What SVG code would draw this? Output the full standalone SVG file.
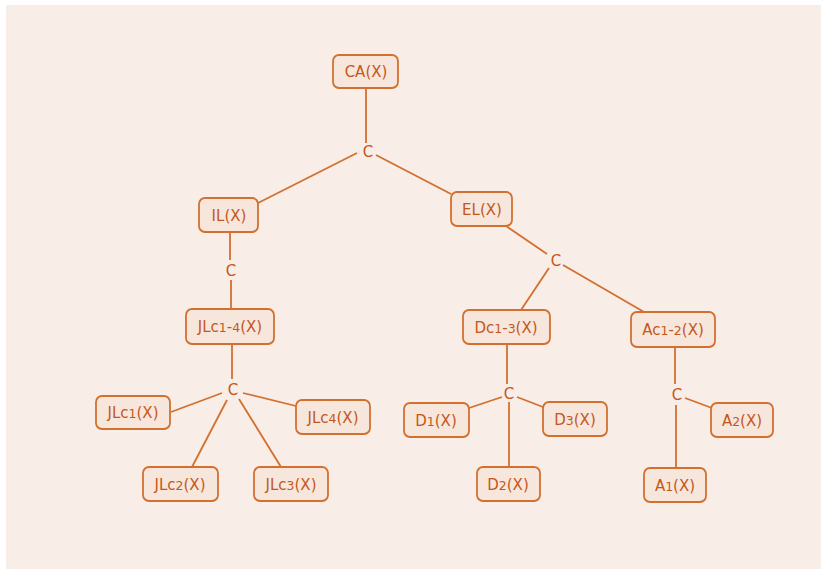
<svg xmlns="http://www.w3.org/2000/svg" width="821" height="569" viewBox="0 0 821 569">
<style>
.n rect{fill:#F7E6DB;stroke:#D2702F;stroke-width:1.8}
.n text,.c{font-family:"DejaVu Sans","Verdana",sans-serif;font-size:15px;fill:#C4581C;text-anchor:middle}
.d{font-size:12.5px}
#connectors line{stroke:#D2702F;stroke-width:1.8;fill:none}
</style>
<rect x="0" y="0" width="821" height="569" fill="#ffffff"/>
<rect x="6" y="5" width="815" height="564" fill="#F8EDE7"/>
<g id="connectors">
<line x1="366" y1="88" x2="366" y2="143"/>
<line x1="357" y1="153" x2="258" y2="203"/>
<line x1="376" y1="155" x2="451" y2="194"/>
<line x1="506" y1="226" x2="547" y2="254"/>
<line x1="549" y1="268" x2="521" y2="310"/>
<line x1="563" y1="265" x2="644" y2="312"/>
<line x1="507" y1="344" x2="507" y2="384"/>
<line x1="502" y1="397" x2="469" y2="408"/>
<line x1="517" y1="397" x2="543" y2="407"/>
<line x1="509" y1="402" x2="509" y2="467"/>
<line x1="675" y1="347" x2="675" y2="384"/>
<line x1="685" y1="398" x2="712" y2="408"/>
<line x1="676" y1="405" x2="676" y2="468"/>
<line x1="230" y1="232" x2="230" y2="260"/>
<line x1="231" y1="280" x2="231" y2="309"/>
<line x1="232" y1="344" x2="232" y2="379"/>
<line x1="222" y1="393" x2="171" y2="412"/>
<line x1="243" y1="393" x2="296" y2="406"/>
<line x1="227" y1="400" x2="192" y2="467"/>
<line x1="239" y1="399" x2="281" y2="467"/>
<text class="c" x="368" y="157">C</text>
<text class="c" x="556" y="266">C</text>
<text class="c" x="231" y="276">C</text>
<text class="c" x="233" y="395">C</text>
<text class="c" x="509" y="399">C</text>
<text class="c" x="677" y="400">C</text>
</g>
<g id="CA" class="n"><rect x="333" y="55" width="65" height="33" rx="6"/><text x="366" y="77">CA(X)</text></g>
<g id="IL" class="n"><rect x="199" y="198" width="59" height="34" rx="6"/><text x="229" y="221">IL(X)</text></g>
<g id="EL" class="n"><rect x="451" y="192" width="61" height="34" rx="6"/><text x="482" y="215">EL(X)</text></g>
<g id="JLc14" class="n"><rect x="186" y="309" width="88" height="35" rx="6"/><text x="230" y="332">JLc<tspan class="d">1</tspan>-<tspan class="d">4</tspan>(X)</text></g>
<g id="JLc1" class="n"><rect x="96" y="396" width="74" height="33" rx="6"/><text x="133" y="418">JLc<tspan class="d">1</tspan>(X)</text></g>
<g id="JLc4" class="n"><rect x="296" y="400" width="74" height="34" rx="6"/><text x="333" y="423">JLc<tspan class="d">4</tspan>(X)</text></g>
<g id="JLc2" class="n"><rect x="143" y="467" width="75" height="34" rx="6"/><text x="180" y="490">JLc<tspan class="d">2</tspan>(X)</text></g>
<g id="JLc3" class="n"><rect x="254" y="467" width="74" height="34" rx="6"/><text x="291" y="490">JLc<tspan class="d">3</tspan>(X)</text></g>
<g id="Dc13" class="n"><rect x="463" y="310" width="87" height="34" rx="6"/><text x="506" y="333">Dc<tspan class="d">1</tspan>-<tspan class="d">3</tspan>(X)</text></g>
<g id="Ac12" class="n"><rect x="631" y="312" width="84" height="35" rx="6"/><text x="673" y="335">Ac<tspan class="d">1</tspan>-<tspan class="d">2</tspan>(X)</text></g>
<g id="D1" class="n"><rect x="404" y="403" width="65" height="34" rx="6"/><text x="436" y="426">D<tspan class="d">1</tspan>(X)</text></g>
<g id="D3" class="n"><rect x="543" y="402" width="64" height="34" rx="6"/><text x="575" y="425">D<tspan class="d">3</tspan>(X)</text></g>
<g id="D2" class="n"><rect x="477" y="467" width="63" height="34" rx="6"/><text x="508" y="490">D<tspan class="d">2</tspan>(X)</text></g>
<g id="A2" class="n"><rect x="711" y="403" width="62" height="34" rx="6"/><text x="742" y="426">A<tspan class="d">2</tspan>(X)</text></g>
<g id="A1" class="n"><rect x="644" y="468" width="62" height="34" rx="6"/><text x="675" y="491">A<tspan class="d">1</tspan>(X)</text></g>
</svg>
